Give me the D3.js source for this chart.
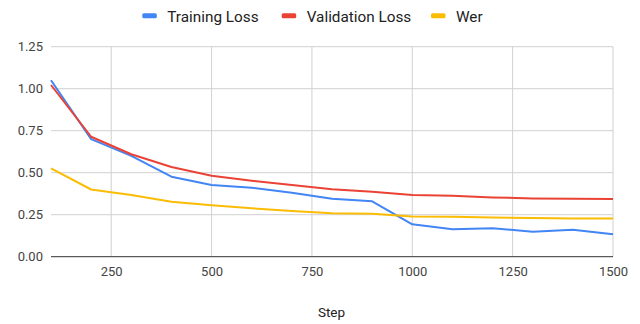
<!DOCTYPE html>
<html><head><meta charset="utf-8">
<script src="https://cdn.jsdelivr.net/npm/d3@7"></script>
<style>body{margin:0;background:#fff;}svg{display:block;font-family:Roboto, Arial, sans-serif;}</style>
</head><body><svg id="c" width="640" height="324"></svg>
<script>
const steps = [100,200,300,400,500,600,700,800,900,1000,1100,1200,1300,1400,1500];
const trainingLoss = [1.05,0.70,0.60,0.476,0.427,0.41,0.381,0.345,0.33,0.193,0.163,0.169,0.149,0.16,0.133];
const validationLoss = [1.022,0.714,0.61,0.534,0.482,0.452,0.427,0.401,0.387,0.367,0.363,0.353,0.347,0.345,0.343];
const wer = [0.526,0.40,0.367,0.327,0.306,0.288,0.272,0.258,0.256,0.24,0.238,0.234,0.23,0.228,0.228];
const xTicks = [250,500,750,1000,1250,1500];
const yTicks = [0,0.25,0.5,0.75,1.0,1.25];
const seriesNames = ["Training Loss","Validation Loss","Wer"];
const seriesColors = ["#4285F4","#EA4335","#FBBC04"];
const seriesData = [trainingLoss, validationLoss, wer];

const svg = d3.select("#c");
const x = d3.scaleLinear().domain([100,1500]).range([51,613]);
const y = d3.scaleLinear().domain([0,1.25]).range([256.7,46.7]);

// grid
svg.append("g").selectAll("line").data(yTicks.filter(d=>d>0)).join("line")
  .attr("x1",x(100)).attr("x2",x(1500)).attr("y1",d=>y(d)).attr("y2",d=>y(d))
  .attr("stroke","#d0d0d0").attr("stroke-width",1);
svg.append("g").selectAll("line").data(xTicks).join("line")
  .attr("x1",d=>x(d)).attr("x2",d=>x(d)).attr("y1",y(0)).attr("y2",y(1.25))
  .attr("stroke","#d0d0d0").attr("stroke-width",1);

// y labels
const yAxis = d3.axisLeft(y).tickValues(yTicks).tickFormat(d3.format(".2f")).tickSize(0).tickPadding(8);
const gy = svg.append("g").attr("transform",`translate(${x(100)},0)`).call(yAxis);
gy.select(".domain").remove();
gy.selectAll("text").attr("font-size",13).attr("fill","#444").attr("font-family","Roboto, Arial, sans-serif");

// x labels
const xAxis = d3.axisBottom(x).tickValues(xTicks).tickFormat(d3.format("d")).tickSize(0).tickPadding(10.5);
const gx = svg.append("g").attr("transform",`translate(0,${y(0)})`).call(xAxis);
gx.select(".domain").remove();
gx.selectAll("text").attr("font-size",13).attr("fill","#444").attr("font-family","Roboto, Arial, sans-serif");

// baseline
svg.append("line").attr("x1",x(100)).attr("x2",x(1500)).attr("y1",y(0)).attr("y2",y(0))
  .attr("stroke","#333").attr("stroke-width",1);

// lines
const line = d3.line().x((d,i)=>x(steps[i])).y(d=>y(d));
seriesData.forEach((s,k)=>{
  svg.append("path").datum(s).attr("d",line).attr("fill","none")
    .attr("stroke",seriesColors[k]).attr("stroke-width",2).attr("stroke-linejoin","round");
});

// axis title
svg.append("text").attr("x",331.5).attr("y",316.5).attr("text-anchor","middle")
  .attr("font-size",13.5).attr("fill","#222").text("Step");

// legend
const legendX = [142.3,281.7,431];
seriesNames.forEach((n,k)=>{
  const g = svg.append("g").attr("transform",`translate(${legendX[k]},15.7)`);
  g.append("rect").attr("x",0).attr("y",-2.5).attr("width",14.5).attr("height",5).attr("rx",1.5)
    .attr("fill",seriesColors[k]);
  g.append("text").attr("x",25).attr("y",6).attr("font-size",15.3).attr("fill","#222").text(n);
});
</script></body></html>
